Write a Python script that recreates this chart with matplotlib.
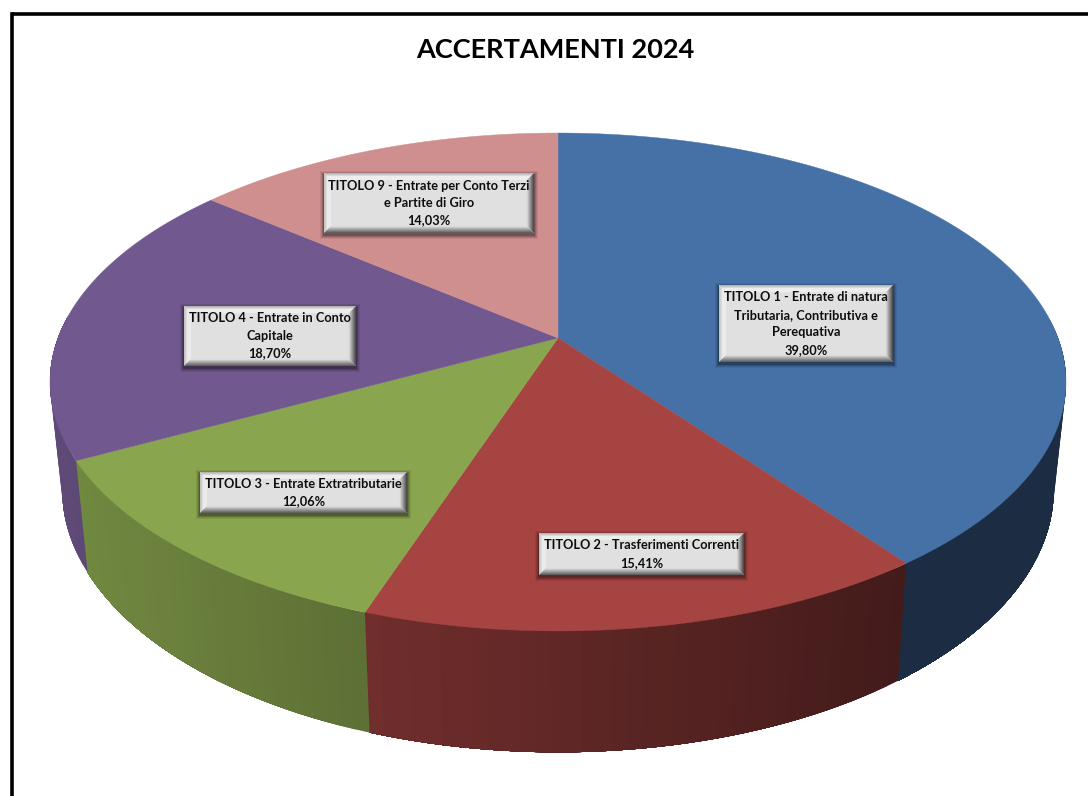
import numpy as np
import matplotlib
matplotlib.use("Agg")
import matplotlib.pyplot as plt
from matplotlib.colors import to_rgb
from matplotlib.patches import Polygon, Rectangle

plt.rcParams['font.family'] = ['Lato', 'DejaVu Sans']

# --- data ---
title = "ACCERTAMENTI 2024"
percentages = [39.80, 15.41, 12.06, 18.70, 14.03]
pct_labels = ["39,80%", "15,41%", "12,06%", "18,70%", "14,03%"]
categories = [
    "TITOLO 1 - Entrate di natura\nTributaria, Contributiva e\nPerequativa",
    "TITOLO 2 - Trasferimenti Correnti",
    "TITOLO 3 - Entrate Extratributarie",
    "TITOLO 4 - Entrate in Conto\nCapitale",
    "TITOLO 9 - Entrate per Conto Terzi\ne Partite di Giro",
]
colors = ["#4671A7", "#A64442", "#89A54E", "#71588F", "#CE8F8E"]
# label boxes (x0, y0, x1, y1) in pixels
boxes = [(719, 285, 893, 362), (539, 533, 744, 575), (200, 472, 407, 513),
         (184, 306, 356, 366), (324, 173, 534, 233)]

W, H = 1088, 796
fig = plt.figure(figsize=(W / 100, H / 100), dpi=100, facecolor="white")
ax = fig.add_axes([0, 0, 1, 1])
ax.set_xlim(0, W)
ax.set_ylim(H, 0)
ax.axis("off")

# frame
ax.plot([11.5, 11.5], [H + 5, 13.5], color="black", lw=2.6, solid_capstyle="projecting", zorder=1)
ax.plot([11.5, W + 5], [13.5, 13.5], color="black", lw=2.6, solid_capstyle="butt", zorder=1)

# perspective projection of the pie disc
CX, CY, A, B, K = 558.0, 338.0, 500.0, 241.2, 0.1767


def top_rim(theta):
    u, v = np.sin(theta), np.cos(theta)
    w = 1 + K * v
    return CX + A * u / w, CY - B * v / w


def bottom_rim(theta):
    x, y = top_rim(theta)
    return CX + 0.976 * (x - CX), 573 + 1.055 * (y - 461)


def side_shade(x):
    return float(np.clip(0.83 + (x - 76) * (0.40 - 0.83) / (900 - 76), 0.40, 0.83))


fractions = np.array(percentages) / sum(percentages)
edges = np.concatenate([[0], np.cumsum(fractions)]) * 2 * np.pi

# sides: opaque overlapping bands, so that no seams show
zo = 2.0
for i, col in enumerate(colors):
    base = np.array(to_rgb(col))
    th = np.linspace(edges[i], edges[i + 1], max(int((edges[i + 1] - edges[i]) * 40), 2))
    th_keep = th[np.cos(th) < 0.1]
    if len(th_keep) < 2:
        continue
    xt, yt = top_rim(th_keep)
    xb, yb = bottom_rim(th_keep)
    # draw each band from the current position to the end of the slice, so later bands overwrite
    for j in range(len(th_keep) - 1):
        pts = np.column_stack([np.r_[xt[j:], xb[j:][::-1]], np.r_[yt[j:], yb[j:][::-1]]])
        c = base * side_shade(0.5 * (xb[j] + xb[j + 1]))
        ax.add_patch(Polygon(pts, closed=True, facecolor=c, edgecolor="none", zorder=zo))
        zo += 1e-4

# top faces
for i, col in enumerate(colors):
    th = np.linspace(edges[i], edges[i + 1], 300)
    xt, yt = top_rim(th)
    pts = np.column_stack([np.r_[CX, xt], np.r_[CY, yt]])
    ax.add_patch(Polygon(pts, closed=True, facecolor=col, edgecolor=col, lw=0.3, zorder=3))


def lerp(a, b, t):
    return tuple(np.array(a) + (np.array(b) - np.array(a)) * t)


def bevel_box(x0, y0, x1, y1):
    # soft shadow
    for k, al in zip([5, 4, 3, 2], [0.07, 0.10, 0.14, 0.20]):
        ax.add_patch(Rectangle((x0 - k + 1, y0 - k + 3), x1 - x0 + 2 * k - 2, y1 - y0 + 2 * k - 2,
                               facecolor="black", alpha=al, edgecolor="none", zorder=4))
    face = (0.878, 0.878, 0.878)
    ax.add_patch(Rectangle((x0, y0), x1 - x0, y1 - y0, facecolor=face, edgecolor="none", zorder=5))
    n, bw = 7, 7.0
    for s in range(n):
        a, b = s * bw / n, (s + 1.15) * bw / n
        t = s / (n - 1)
        light = lerp((0.70, 0.70, 0.70), (0.93, 0.93, 0.93), min(t * 2, 1))
        lgt_left = lerp((0.76, 0.76, 0.76), (0.92, 0.92, 0.92), min(t * 2, 1))
        dark_r = lerp((0.30, 0.30, 0.30), (0.82, 0.82, 0.82), t)
        dark_b = lerp((0.38, 0.38, 0.38), (0.86, 0.86, 0.86), t)
        sides = [
            ([(x0 + a, y0 + a), (x1 - a, y0 + a), (x1 - b, y0 + b), (x0 + b, y0 + b)], light),
            ([(x0 + a, y0 + a), (x0 + b, y0 + b), (x0 + b, y1 - b), (x0 + a, y1 - a)], lgt_left),
            ([(x1 - a, y0 + a), (x1 - b, y0 + b), (x1 - b, y1 - b), (x1 - a, y1 - a)], dark_r),
            ([(x0 + a, y1 - a), (x1 - a, y1 - a), (x1 - b, y1 - b), (x0 + b, y1 - b)], dark_b),
        ]
        for pts, c in sides:
            ax.add_patch(Polygon(pts, closed=True, facecolor=c, edgecolor="none", zorder=6))


for cat, pct, box in zip(categories, pct_labels, boxes):
    bevel_box(*box)
    ax.text(0.5 * (box[0] + box[2]), 0.5 * (box[1] + box[3]), cat + "\n" + pct,
            ha="center", va="center", fontsize=9.2, fontweight="bold", color="#0d0d0d",
            linespacing=1.55, zorder=7)

ax.text(555.5, 49.5, title, ha="center", va="center", fontsize=19.5, fontweight="bold", color="black", zorder=7)

fig.savefig("out.png", dpi=100, facecolor="white")
